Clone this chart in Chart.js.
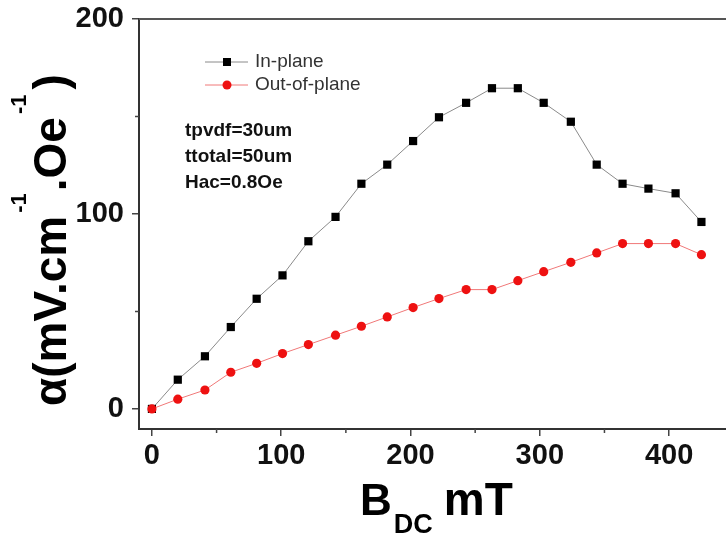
<!DOCTYPE html>
<html>
<head>
<meta charset="utf-8">
<title>alpha vs BDC</title>
<script src="https://cdn.jsdelivr.net/npm/chart.js@4.4.0/dist/chart.umd.min.js"></script>
<style>
    html, body { margin: 0; padding: 0; background: #fff; }
    #wrap { width: 726px; height: 538px; }
</style>
</head>
<body>
<div id="wrap"><canvas id="chart" width="726" height="538"></canvas></div>
<script>
    "use strict";

    // data
    var bdc = [0, 20, 41, 61, 81, 101, 121, 142, 162, 182, 202, 222, 243, 263, 283, 303, 324, 344, 364, 384, 405, 425];
    var inPlane = [0, 15, 27, 42, 56.5, 68.5, 86, 98.5, 115.5, 125.3, 137.4, 149.6, 157, 164.5, 164.5, 157, 147.3, 125.3, 115.5, 113, 110.6, 95.9];
    var outOfPlane = [0, 5, 9.7, 18.8, 23.4, 28.4, 33, 37.8, 42.4, 47.2, 52, 56.6, 61.2, 61.2, 65.8, 70.4, 75.2, 80, 84.8, 84.8, 84.8, 79.1];

    var xTicks = [0, 50, 100, 150, 200, 250, 300, 350, 400];
    var yTicks = [0, 50, 100, 150, 200];
    var seriesNames = ["In-plane", "Out-of-plane"];
    var notes = ["tpvdf=30um", "ttotal=50um", "Hac=0.8Oe"];

    var FONT = '"Liberation Sans", Arial, Helvetica, sans-serif';

    function toPoints(xs, ys) {
        return xs.map(function (x, i) { return { x: x, y: ys[i] }; });
    }

    function isMajor(v) { return v % 100 === 0; }

    // draw a string made of pieces [text, size, shift, gapAfter]
    function drawPieces(ctx, pieces, x, y) {
        var cx = x;
        pieces.forEach(function (p) {
            ctx.font = "bold " + p[1] + "px " + FONT;
            ctx.fillText(p[0], cx, y + p[2]);
            cx += ctx.measureText(p[0]).width + (p[3] || 0);
        });
    }

    var extras = {
        id: "extras",
        afterDraw: function (chart) {
            var ctx = chart.ctx;
            var a = chart.chartArea;
            var xs = chart.scales.x, ys = chart.scales.y;
            ctx.save();

            // top frame line
            ctx.strokeStyle = "#555";
            ctx.lineWidth = 2;
            ctx.beginPath();
            ctx.moveTo(a.left, a.top);
            ctx.lineTo(chart.width, a.top);
            ctx.stroke();

            // minor ticks
            ctx.lineWidth = 1.5;
            ctx.strokeStyle = "#444";
            ctx.beginPath();
            xTicks.forEach(function (v) {
                if (isMajor(v)) return;
                var px = xs.getPixelForValue(v);
                ctx.moveTo(px, a.bottom);
                ctx.lineTo(px, a.bottom + 4);
            });
            yTicks.forEach(function (v) {
                if (isMajor(v)) return;
                var py = ys.getPixelForValue(v);
                ctx.moveTo(a.left, py);
                ctx.lineTo(a.left - 4, py);
            });
            ctx.stroke();

            // legend
            var ds = chart.data.datasets;
            ctx.textBaseline = "middle";
            ctx.textAlign = "left";
            [62, 85].forEach(function (ly, i) {
                var d = ds[i];
                ctx.strokeStyle = d.borderColor;
                ctx.lineWidth = 1;
                ctx.beginPath();
                ctx.moveTo(205, ly);
                ctx.lineTo(248, ly);
                ctx.stroke();
                ctx.fillStyle = d.pointBackgroundColor;
                ctx.beginPath();
                if (d.pointStyle === "rect") {
                    ctx.rect(223, ly - 4, 8, 8);
                } else {
                    ctx.arc(227, ly, 4.5, 0, Math.PI * 2);
                }
                ctx.fill();
                ctx.fillStyle = "#333";
                ctx.font = "19px " + FONT;
                ctx.fillText(seriesNames[i], 255, ly);
            });

            // notes
            ctx.fillStyle = "#111";
            ctx.font = "bold 19px " + FONT;
            notes.forEach(function (t, i) {
                ctx.fillText(t, 185, 131 + i * 26);
            });

            // axis titles
            ctx.textBaseline = "alphabetic";
            ctx.fillStyle = "#000";
            drawPieces(ctx, [["B", 44, 0, 2], ["DC", 27, 18, 11], ["mT", 46, 0]], 360, 515);

            ctx.translate(66, 406);
            ctx.rotate(-Math.PI / 2);
            drawPieces(ctx, [["\u03b1(mV.cm", 46, 0, 3], ["-1", 22, -40, 2], [".Oe", 46, 0, 3], ["-1", 22, -40, 5], [")", 46, 0]], 0, 0);

            ctx.restore();
        }
    };

    var ctx = document.getElementById("chart").getContext("2d");
    var chart = new Chart(ctx, {
        type: "scatter",
        data: {
            datasets: [
                {
                    label: seriesNames[0],
                    data: toPoints(bdc, inPlane),
                    showLine: true,
                    borderColor: "#8a8a8a",
                    borderWidth: 1,
                    pointStyle: "rect",
                    pointRadius: 5.8,
                    pointBackgroundColor: "#000",
                    pointBorderWidth: 0,
                    order: 1,
                },
                {
                    label: seriesNames[1],
                    data: toPoints(bdc, outOfPlane),
                    showLine: true,
                    borderColor: "#f07878",
                    borderWidth: 1,
                    pointStyle: "circle",
                    pointRadius: 4.6,
                    pointBackgroundColor: "#ee1111",
                    pointBorderWidth: 0,
                    order: 0,
                },
            ],
        },
        options: {
            responsive: false,
            animation: false,
            layout: { autoPadding: false, padding: { top: 19, right: 0, left: 0, bottom: 0 } },
            plugins: {
                legend: { display: false },
                tooltip: { enabled: false },
            },
            scales: {
                x: {
                    type: "linear",
                    min: -10,
                    max: 444,
                    afterBuildTicks: function (s) {
                        s.ticks = xTicks.map(function (v) { return { value: v }; });
                    },
                    afterFit: function (s) {
                        s.height = 109;
                        s.paddingLeft = 0;
                        s.paddingRight = 0;
                    },
                    border: { color: "#333", width: 2 },
                    grid: {
                        drawOnChartArea: false,
                        tickLength: 7,
                        lineWidth: 1.5,
                        color: function (c) { return c.tick && isMajor(c.tick.value) ? "#444" : "rgba(0,0,0,0)"; },
                    },
                    ticks: {
                        padding: 3,
                        color: "#111",
                        font: { family: FONT, size: 29, weight: "bold" },
                        callback: function (v) { return isMajor(v) ? v : ""; },
                    },
                },
                y: {
                    type: "linear",
                    min: -10.3,
                    max: 200,
                    afterBuildTicks: function (s) {
                        s.ticks = yTicks.map(function (v) { return { value: v }; });
                    },
                    afterFit: function (s) {
                        s.width = 139;
                        s.paddingTop = 19;
                        s.paddingBottom = 0;
                    },
                    border: { color: "#333", width: 2 },
                    grid: {
                        drawOnChartArea: false,
                        tickLength: 7,
                        lineWidth: 1.5,
                        color: function (c) { return c.tick && isMajor(c.tick.value) ? "#444" : "rgba(0,0,0,0)"; },
                    },
                    ticks: {
                        padding: 8,
                        color: "#111",
                        font: { family: FONT, size: 29, weight: "bold" },
                        callback: function (v) { return isMajor(v) ? v : ""; },
                    },
                },
            },
        },
        plugins: [extras],
    });
</script>
</body>
</html>
